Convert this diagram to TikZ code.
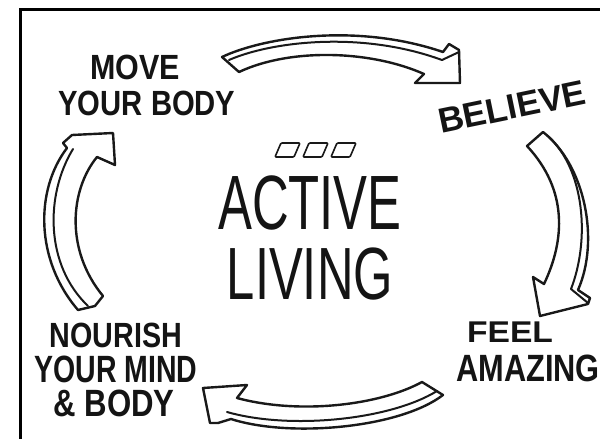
\documentclass[tikz,border=0pt]{standalone}
\usepackage{fontspec}
\setmainfont{Liberation Sans}
\begin{document}
\begin{tikzpicture}[x=1pt,y=-1pt,
  ink/.style={draw=black!90, line join=round, line cap=round},
  barrow/.style={ink, line width=2.4pt},
  bline/.style={ink, line width=2pt},
  lbl/.style={text=black!92, inner sep=0pt, anchor=center},
  hand/.style={lbl, font=\bfseries\fontsize{#1}{#1}\selectfont},
  big/.style={lbl, font=\fontsize{#1}{#1}\selectfont},
  logo/.style={ink, line width=1.6pt, rounded corners=1pt}]
\useasboundingbox (0,0) rectangle (600,439);
\fill[white] (0,0) rectangle (600,439);
% frame
\draw[line width=3pt, black] (20,439) -- (20,9) -- (600,9);

% logo
\foreach \x/\n in {275/a,303/b,331/c}{
  \draw[logo] (\x+6,143) coordinate (logo\n) -- (\x+25,143) -- (\x+19,157) -- (\x,157) -- cycle;
}
% title
\node[big=77, xscale=0.66] (active) at (310,203) {ACTIVE};
\node[big=74, xscale=0.685] (living) at (310,274) {LIVING};

% labels
\node[hand=35, xscale=0.87] (move) at (135,67) {MOVE};
\node[hand=35, xscale=0.835] (body1) at (147,103) {YOUR BODY};
\node[hand=35, xscale=1.0, rotate=11.7] (believe) at (512,107) {BELIEVE};
\node[hand=30, xscale=1.12] (feel) at (510,332) {FEEL};
\node[hand=38, xscale=0.81] (amazing) at (528,368) {AMAZING};
\node[hand=35, xscale=0.82] (nourish) at (116,335) {NOURISH};
\node[hand=38, xscale=0.75] (mind) at (116,369) {YOUR MIND};
\node[hand=38, xscale=0.82] (body2) at (114,403) {\& BODY};

% top arrow (move -> believe)
\draw[barrow] (222,57) .. controls (262,38) and (355,22) .. (443,52)
  -- (449,44) -- (459,50) -- (460,83) -- (415,83) -- (424,74)
  .. controls (370,50) and (290,48) .. (239,72) -- cycle;
\draw[bline] (229,60) .. controls (270,42) and (360,30) .. (442,60) -- (459,52);

% right arrow (believe -> feel)
\draw[barrow] (527,146) -- (543,132)
  .. controls (585,165) and (600,240) .. (578,290)
  -- (590,298) -- (588,304) -- (540,316) -- (533,277) -- (544,284)
  .. controls (565,240) and (568,190) .. (527,146) -- cycle;
\draw[bline] (548,136) .. controls (585,170) and (590,240) .. (571,289) -- (588,303);

% bottom arrow (feel -> nourish)
\draw[barrow] (203,388) -- (247,385) -- (237,398)
  .. controls (300,415) and (380,405) .. (422,382)
  -- (443,395)
  .. controls (400,428) and (290,438) .. (231,419)
  -- (218,423) -- (210,423) -- cycle;
\draw[bline] (227,412) .. controls (290,430) and (390,420) .. (437,391);

% left arrow (nourish -> move)
\draw[barrow] (113,133) -- (115,165) -- (97,157)
  .. controls (70,190) and (65,250) .. (103,296)
  -- (95,306) -- (78,310)
  .. controls (35,260) and (35,190) .. (67,148)
  -- (63,143) -- (72,135) -- cycle;
\draw[bline] (73,149) .. controls (45,195) and (45,265) .. (88,306);
\end{tikzpicture}
\end{document}
